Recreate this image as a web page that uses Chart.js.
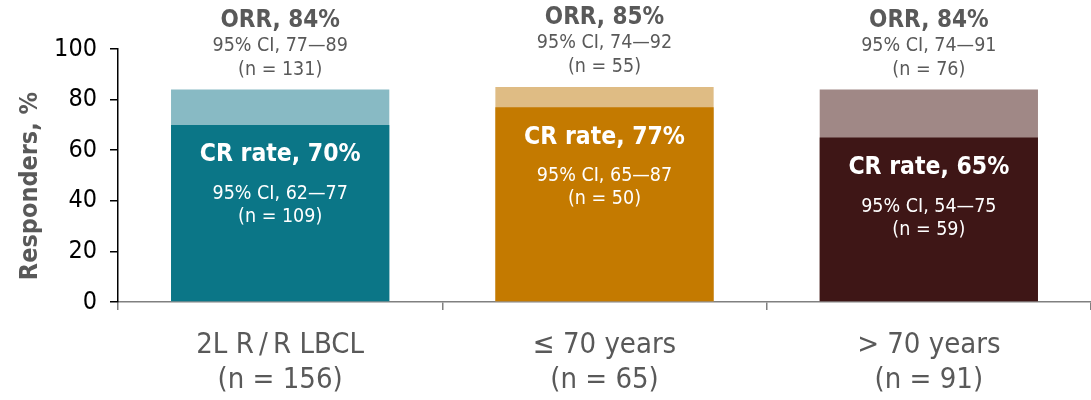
<!DOCTYPE html>
<html>
<head>
<meta charset="utf-8">
<script src="https://cdn.jsdelivr.net/npm/chart.js@4"></script>
<style>
  html, body { margin: 0; padding: 0; background: #fff; }
  #wrap { width: 1091px; height: 400px; }
</style>
</head>
<body>
<div id="wrap"><canvas id="chart"></canvas></div>
<script>
const categories = [['2L R\u2009/\u2009R LBCL', '(n = 156)'], ['\u2264 70 years', '(n = 65)'], ['> 70 years', '(n = 91)']];
const orrRate = [84, 85, 84];
const orrCI = ['95% CI, 77\u201489', '95% CI, 74\u201492', '95% CI, 74\u201491'];
const orrN = ['(n = 131)', '(n = 55)', '(n = 76)'];
const crRate = [70, 77, 65];
const crCI = ['95% CI, 62\u201477', '95% CI, 65\u201487', '95% CI, 54\u201475'];
const crN = ['(n = 109)', '(n = 50)', '(n = 59)'];
const yTicks = [0, 20, 40, 60, 80, 100];
const yTitle = 'Responders, %';

const darkColors = ['#0b7687', '#c47a00', '#3e1616'];
const lightColors = ['#88bac4', '#dfbc84', '#a08886'];
const FONT = '"DejaVu Sans Condensed", "DejaVu Sans", sans-serif';
const GREY = '#595959';

// text above and inside each bar, plus the y axis title
const barLabels = {
    id: 'barLabels',
    afterDatasetsDraw(chart) {
        const ctx = chart.ctx;
        const y = chart.scales.y;
        const meta = chart.getDatasetMeta(0);
        ctx.save();
        ctx.textAlign = 'center';
        ctx.textBaseline = 'middle';
        meta.data.forEach((bar, i) => {
            const x = bar.x;
            const top = y.getPixelForValue(orrRate[i]);
            ctx.fillStyle = GREY;
            ctx.font = 'bold 24px ' + FONT;
            ctx.fillText('ORR, ' + orrRate[i] + '%', x, top - 69);
            ctx.font = '19.5px ' + FONT;
            ctx.fillText(orrCI[i], x, top - 44);
            ctx.fillText(orrN[i], x, top - 20);

            const crTop = y.getPixelForValue(crRate[i]);
            ctx.fillStyle = '#fff';
            ctx.font = 'bold 24.5px ' + FONT;
            ctx.fillText('CR rate, ' + crRate[i] + '%', x, crTop + 30);
            ctx.font = '19.5px ' + FONT;
            ctx.fillText(crCI[i], x, crTop + 69);
            ctx.fillText(crN[i], x, crTop + 92);
        });

        ctx.translate(30, 186);
        ctx.rotate(-Math.PI / 2);
        ctx.fillStyle = GREY;
        ctx.font = 'bold 25px ' + FONT;
        ctx.fillText(yTitle, 0, 0);
        ctx.restore();
    }
};

new Chart(document.getElementById('chart'), {
    type: 'bar',
    data: {
        labels: categories,
        datasets: [
            {
                label: 'CR rate',
                data: crRate,
                backgroundColor: darkColors,
                grouped: false,
                categoryPercentage: 1,
                barPercentage: 0.673
            },
            {
                label: 'ORR',
                data: orrRate,
                backgroundColor: lightColors,
                grouped: false,
                categoryPercentage: 1,
                barPercentage: 0.673
            }
        ]
    },
    options: {
        responsive: true,
        maintainAspectRatio: false,
        animation: false,
        layout: { padding: { top: 49, right: 0, left: 0, bottom: 0 } },
        plugins: {
            legend: { display: false },
            tooltip: { enabled: false }
        },
        scales: {
            x: {
                afterFit: s => { s.height = 98; },
                grid: { drawOnChartArea: false, color: '#808080', tickLength: 8, lineWidth: 1.5 },
                border: { color: '#808080', width: 1.5 },
                ticks: { color: GREY, font: { family: FONT, size: 29, lineHeight: 1.2 }, padding: 18, maxRotation: 0 }
            },
            y: {
                min: 0,
                max: 100,
                afterFit: s => { s.width = 118; },
                afterBuildTicks: s => { s.ticks = yTicks.map(v => ({ value: v })); },
                grid: { drawOnChartArea: false, color: '#000', tickLength: 8, lineWidth: 1.5 },
                border: { color: '#000', width: 1.5 },
                ticks: { color: '#000', font: { family: FONT, size: 25 }, padding: 13 }
            }
        }
    },
    plugins: [barLabels]
});
</script>
</body>
</html>
